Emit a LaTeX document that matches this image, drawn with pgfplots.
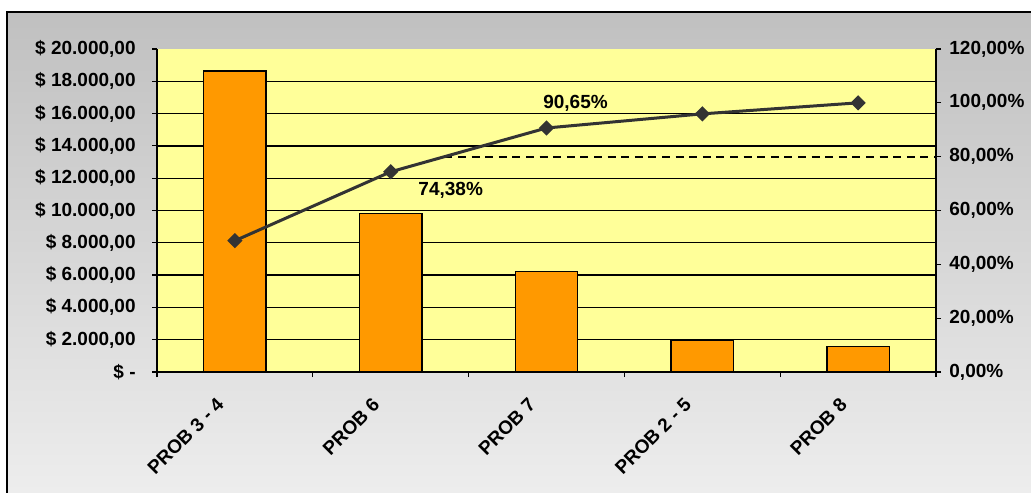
\documentclass[border=0pt]{standalone}
\usepackage{pgfplots}
\pgfplotsset{compat=1.18}
\usepackage{fontspec}
\setmainfont{Liberation Sans}
\definecolor{plotbg}{HTML}{FFFF99}
\definecolor{barfill}{HTML}{FF9900}
\definecolor{linecol}{HTML}{333333}
\definecolor{frametop}{HTML}{C0C0C0}
\definecolor{framebot}{HTML}{EEEEEE}
\newcommand\lblfont{\bfseries\fontsize{9.5}{11}\selectfont}
\begin{document}
\begin{tikzpicture}
\useasboundingbox (0pt,0pt) rectangle (515.5pt,246pt);
\shade[top color=frametop,bottom color=framebot] (3.5pt,-5pt) rectangle (520pt,240pt);
\draw[black,line width=1pt] (3.5pt,-5pt) -- (3.5pt,240pt) -- (520pt,240pt);
\begin{axis}[
  at={(78.5pt,60pt)}, anchor=south west,
  scale only axis, width=389.5pt, height=161.5pt,
  xmin=-0.5, xmax=4.5, ymin=0, ymax=20000,
  scaled y ticks=false,
  axis x line*=bottom, axis y line*=left,
  axis line style={line width=0.75pt,-},
  axis background/.style={fill=plotbg},
  tick align=outside,
  major tick length=2.5pt,
  every tick/.style={black, line width=0.6pt},
  xtick={-0.5,0.5,1.5,2.5,3.5,4.5},
  xticklabels={},
  extra x ticks={0,1,2,3,4},
  extra x tick labels={PROB 3 - 4, PROB 6, PROB 7, PROB 2 - 5, PROB 8},
  extra x tick style={major tick length=0pt, xticklabel style={font=\lblfont, rotate=45, anchor=north east, inner sep=0pt, xshift=-15.4pt, yshift=-1.7pt}},
  ytick={0,2000,...,20000},
  yticklabels={{\$ -\hspace{11pt}},{\$ 2.000,00},{\$ 4.000,00},{\$ 6.000,00},{\$ 8.000,00},{\$ 10.000,00},{\$ 12.000,00},{\$ 14.000,00},{\$ 16.000,00},{\$ 18.000,00},{\$ 20.000,00}},
  yticklabel style={font=\lblfont, anchor=east, inner sep=0pt, xshift=-8pt},
  extra y ticks={2000,4000,...,18000},
  extra y tick labels={},
  extra y tick style={grid=major, major tick length=0pt},
  major grid style={black, line width=0.65pt},
]
\addplot[ybar, bar width=0.4, fill=barfill, draw=black, line width=0.75pt] coordinates {(0,18650) (1,9800) (2,6220) (3,1990) (4,1570)};
\end{axis}
\begin{axis}[
  at={(78.5pt,60pt)}, anchor=south west,
  scale only axis, width=389.5pt, height=161.5pt,
  xmin=-0.5, xmax=4.5, ymin=0, ymax=120,
  axis x line=none, axis y line*=right,
  axis line style={line width=0.75pt,-},
  tick align=outside,
  major tick length=2.5pt,
  every tick/.style={black, line width=0.6pt},
  ytick={0,20,...,120},
  yticklabels={{0,00\%},{20,00\%},{40,00\%},{60,00\%},{80,00\%},{100,00\%},{120,00\%}},
  yticklabel style={font=\lblfont, anchor=west, inner sep=0pt, xshift=4pt},
  clip=false,
]
\addplot[black, line width=1pt, dash pattern=on 4pt off 2.8pt] coordinates {(1.345,80) (4.5,80)};
\addplot[linecol, line width=1.5pt, mark=square*, mark size=1.95pt, mark options={rotate=45, fill=linecol, solid}] coordinates {(0,48.78) (1,74.38) (2,90.65) (3,95.9) (4,100)};
\node[font=\lblfont, xshift=30pt, yshift=-9.5pt] at (axis cs:1,74.38) {74,38\%};
\node[font=\lblfont, xshift=14.5pt, yshift=12.5pt] at (axis cs:2,90.65) {90,65\%};
\end{axis}
\end{tikzpicture}
\end{document}
